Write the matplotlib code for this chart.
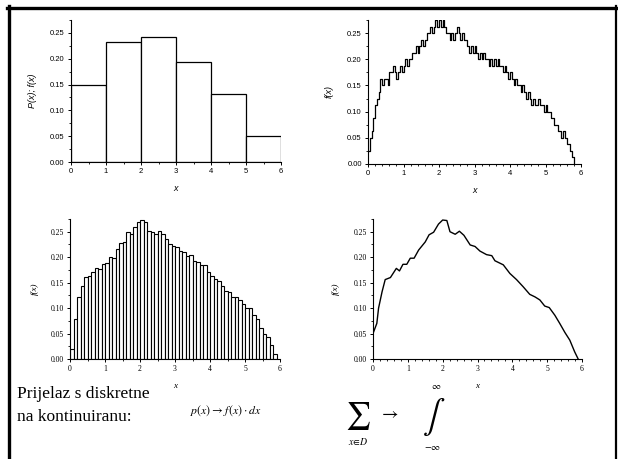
import matplotlib.pyplot as plt
import numpy as np
from matplotlib.ticker import MultipleLocator
from matplotlib.lines import Line2D

# gornji lijevi: diskretna razdioba
disc_edges = [0, 1, 2, 3, 4, 5]
disc_p = [0.150, 0.233, 0.243, 0.193, 0.131, 0.050]

# gornji desni: stepenasta f(x), korak 0.05, vrijednosti u jedinicama 1/80
step_x0 = 0.0
step_dx = 0.05
step_units = [2, 4, 5, 7, 9, 10, 11, 13, 12, 13, 13, 12, 14, 14, 15, 14, 13, 14, 15, 14,
              15, 16, 15, 16, 16, 17, 17, 18, 17, 18, 19, 18, 19, 20, 20, 21, 20, 21, 22, 21,
              22, 21, 22, 21, 20, 20, 19, 20, 19, 20, 21, 20, 19, 20, 19, 19, 18, 17, 18, 17,
              18, 17, 16, 17, 16, 17, 16, 16, 15, 16, 15, 16, 15, 16, 15, 15, 14, 15, 14, 13,
              14, 13, 12, 13, 12, 12, 11, 12, 11, 10, 11, 10, 9, 10, 9, 9, 10, 9, 9, 8,
              9, 8, 8, 7, 7, 6, 6, 5, 5, 4, 5, 4, 3, 3, 2, 1, 0]

# donji lijevi: histogram, sirina stupca 0.1
hist_w = 0.1
hist_f = [0.020, 0.079, 0.121, 0.143, 0.161, 0.163, 0.171, 0.178, 0.176, 0.186,
          0.188, 0.200, 0.198, 0.216, 0.228, 0.230, 0.250, 0.245, 0.259, 0.270,
          0.273, 0.270, 0.251, 0.249, 0.245, 0.252, 0.245, 0.236, 0.225, 0.222,
          0.220, 0.212, 0.210, 0.203, 0.205, 0.193, 0.190, 0.185, 0.184, 0.170,
          0.163, 0.157, 0.153, 0.143, 0.133, 0.132, 0.122, 0.121, 0.115, 0.108,
          0.101, 0.100, 0.087, 0.078, 0.061, 0.050, 0.043, 0.027, 0.010]

# donji desni: kontinuirana f(x)
cont_x = [0.00, 0.11, 0.16, 0.26, 0.35, 0.50, 0.67, 0.76, 0.86, 0.97, 1.07, 1.18, 1.31,
          1.50, 1.61, 1.74, 1.88, 2.00, 2.12, 2.21, 2.36, 2.48, 2.61, 2.79, 2.93, 3.07,
          3.26, 3.41, 3.50, 3.74, 3.93, 4.12, 4.31, 4.50, 4.65, 4.79, 4.93, 5.06, 5.22,
          5.36, 5.51, 5.65, 5.79, 5.89]
cont_f = [0.050, 0.070, 0.100, 0.132, 0.156, 0.160, 0.178, 0.173, 0.186, 0.186, 0.198,
          0.198, 0.214, 0.230, 0.244, 0.249, 0.265, 0.273, 0.272, 0.250, 0.245, 0.251,
          0.243, 0.224, 0.221, 0.212, 0.205, 0.203, 0.193, 0.185, 0.168, 0.156, 0.142,
          0.127, 0.122, 0.116, 0.104, 0.101, 0.086, 0.070, 0.052, 0.037, 0.014, 0.000]

yticks = [0.00, 0.05, 0.10, 0.15, 0.20, 0.25]

plt.rcParams['mathtext.fontset'] = 'stix'

W, H = 618, 459
fig = plt.figure(figsize=(W / 100, H / 100), dpi=100)


def px_axes(x0, x1, ytop, ybot):
    return fig.add_axes([x0 / W, 1 - ybot / H, (x1 - x0) / W, (ybot - ytop) / H])


def style(ax, family, xminor, ylabel, ylab_x):
    for s in ['top', 'right']:
        ax.spines[s].set_visible(False)
    for s in ['left', 'bottom']:
        ax.spines[s].set_linewidth(0.8)
    ax.set_xlim(0, 6)
    ax.set_ylim(0, 0.275)
    ax.set_xticks(range(7))
    ax.set_yticks(yticks)
    ax.set_yticklabels(['%.2f' % v for v in yticks])
    ax.xaxis.set_minor_locator(MultipleLocator(xminor))
    ax.yaxis.set_minor_locator(MultipleLocator(0.025))
    ax.tick_params(which='major', direction='out', length=2.5, width=0.7, pad=2,
                   labelsize=5.5, labelfontfamily=family)
    ax.tick_params(which='minor', direction='out', length=1.5, width=0.6)
    ax.set_xlabel('x', fontstyle='italic', family=family, fontsize=6.5, labelpad=6)
    ax.set_ylabel(ylabel, fontstyle='italic', family=family, fontsize=6.5)
    ax.yaxis.set_label_coords(ylab_x, 0.5)


sans = 'Liberation Sans'
serif = 'Liberation Serif'

ax1 = px_axes(71, 281, 20, 162)
ax1.bar(disc_edges, disc_p, width=1, align='edge', color='white', edgecolor='black', linewidth=0.9)
style(ax1, sans, 0.5, 'P(x); f(x)', -0.16)

ax2 = px_axes(368, 581, 20, 164)
sx = step_x0 + step_dx * np.arange(len(step_units))
sy = np.array(step_units) / 80.0
ax2.step(sx, sy, where='post', color='black', linewidth=0.9)
style(ax2, sans, 0.2, 'f(x)', -0.16)

ax3 = px_axes(70, 280, 219, 359)
hx = hist_w * np.arange(len(hist_f))
ax3.bar(hx, hist_f, width=hist_w, align='edge', color='white', edgecolor='black', linewidth=0.8)
style(ax3, serif, 0.5, 'f(x)', -0.15)

ax4 = px_axes(373, 582, 219, 359)
ax4.plot(cont_x, cont_f, color='black', linewidth=1.0)
style(ax4, serif, 0.2, 'f(x)', -0.16)

# okvir
fig.add_artist(Line2D([8.5 / W, 8.5 / W], [0, 1 - 6 / H], color='black', linewidth=2.4))
fig.add_artist(Line2D([7 / W, 616.5 / W], [1 - 7.5 / H, 1 - 7.5 / H], color='black', linewidth=2.4))
fig.add_artist(Line2D([615.5 / W, 615.5 / W], [0, 1 - 6 / H], color='black', linewidth=1.6))

# tekst na dnu
fig.text(17 / W, 1 - 398 / H, 'Prijelaz s diskretne', family=serif, fontsize=12.5, va='baseline')
fig.text(17 / W, 1 - 421 / H, 'na kontinuiranu:', family=serif, fontsize=12.5, va='baseline')
fig.text(190 / W, 1 - 414 / H, r'$p(x)\rightarrow f\,(x)\cdot dx$', fontsize=8.5, va='baseline')

fig.text(358 / W, 1 - 423 / H, r'$\sum$', fontsize=20, ha='center', va='baseline')
fig.text(358 / W, 1 - 445 / H, r'$x\!\in\!D$', fontsize=7, ha='center', va='baseline')
fig.text(389 / W, 1 - 418 / H, r'$\rightarrow$', fontsize=13, ha='center', va='baseline')
fig.text(434 / W, 1 - 425 / H, r'$\int$', fontsize=24, ha='center', va='baseline')
fig.text(436 / W, 1 - 389 / H, r'$\infty$', fontsize=7, ha='center', va='baseline')
fig.text(433 / W, 1 - 450 / H, r'$-\infty$', fontsize=7, ha='center', va='baseline')

fig.savefig('out.png', dpi=100)
